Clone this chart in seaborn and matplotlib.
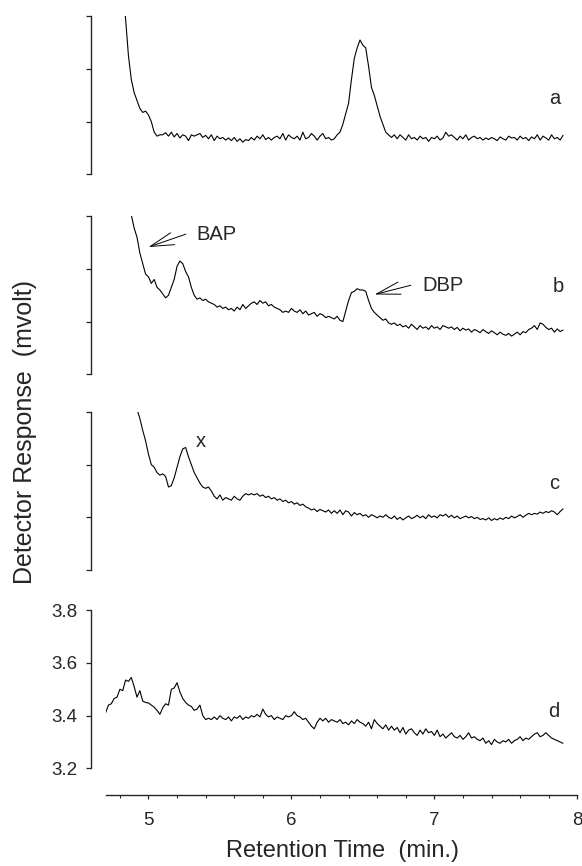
import numpy as np
import matplotlib
matplotlib.use("Agg")
import matplotlib.pyplot as plt
import seaborn as sns

sns.set_style("ticks")
plt.rcParams['font.family'] = ['Liberation Sans', 'DejaVu Sans']

# sampling times (min): 4.70 .. 7.90 every 0.02 min
time_min = [round(4.70 + 0.02 * i, 2) for i in range(161)]

# trace a (relative response, panel spans 0..0.6)
trace_a = [
    1.60, 1.40, 1.22, 1.06, 0.92, 0.80, 0.69, 0.59, 0.45, 0.36,
    0.31, 0.28, 0.25, 0.235, 0.24, 0.225, 0.20, 0.16, 0.145, 0.15,
    0.15, 0.158, 0.145, 0.16, 0.142, 0.155, 0.138, 0.15, 0.145, 0.128,
    0.15, 0.145, 0.15, 0.155, 0.14, 0.148, 0.135, 0.15, 0.128, 0.145,
    0.135, 0.14, 0.13, 0.138, 0.128, 0.14, 0.125, 0.135, 0.122, 0.132,
    0.128, 0.14, 0.13, 0.145, 0.135, 0.15, 0.132, 0.14, 0.13, 0.14,
    0.145, 0.135, 0.155, 0.13, 0.15, 0.14, 0.135, 0.145, 0.13, 0.16,
    0.135, 0.14, 0.155, 0.145, 0.13, 0.145, 0.155, 0.135, 0.14, 0.13,
    0.135, 0.15, 0.16, 0.19, 0.23, 0.27, 0.36, 0.44, 0.48, 0.51,
    0.49, 0.48, 0.41, 0.33, 0.30, 0.26, 0.22, 0.19, 0.16, 0.15,
    0.14, 0.15, 0.135, 0.15, 0.14, 0.13, 0.15, 0.135, 0.14, 0.13,
    0.145, 0.135, 0.14, 0.125, 0.14, 0.135, 0.145, 0.13, 0.138, 0.16,
    0.145, 0.15, 0.14, 0.13, 0.145, 0.135, 0.15, 0.13, 0.14, 0.145,
    0.135, 0.14, 0.13, 0.138, 0.132, 0.14, 0.135, 0.128, 0.142, 0.135,
    0.13, 0.145, 0.138, 0.14, 0.13, 0.145, 0.135, 0.14, 0.128, 0.142,
    0.135, 0.15, 0.13, 0.145, 0.138, 0.13, 0.15, 0.135, 0.14, 0.13,
    0.148,
]

trace_b = [
    1.50, 1.34, 1.19, 1.06, 0.95, 0.85, 0.77, 0.70, 0.645, 0.605,
    0.555, 0.52, 0.46, 0.42, 0.38, 0.37, 0.345, 0.36, 0.33, 0.32,
    0.305, 0.29, 0.30, 0.33, 0.36, 0.41, 0.43, 0.42, 0.39, 0.37,
    0.33, 0.30, 0.285, 0.29, 0.28, 0.285, 0.275, 0.27, 0.265, 0.255,
    0.26, 0.25, 0.255, 0.245, 0.25, 0.24, 0.255, 0.245, 0.265, 0.25,
    0.26, 0.27, 0.275, 0.265, 0.28, 0.27, 0.275, 0.26, 0.265, 0.255,
    0.25, 0.245, 0.235, 0.24, 0.235, 0.25, 0.24, 0.235, 0.245, 0.23,
    0.24, 0.225, 0.23, 0.235, 0.22, 0.23, 0.225, 0.215, 0.22, 0.215,
    0.21, 0.22, 0.205, 0.20, 0.24, 0.28, 0.31, 0.315, 0.325, 0.32,
    0.32, 0.315, 0.28, 0.25, 0.235, 0.225, 0.215, 0.205, 0.21, 0.195,
    0.19, 0.195, 0.185, 0.19, 0.18, 0.185, 0.175, 0.19, 0.18, 0.17,
    0.185, 0.175, 0.18, 0.17, 0.185, 0.175, 0.18, 0.17, 0.185, 0.18,
    0.175, 0.18, 0.17, 0.178, 0.165, 0.175, 0.168, 0.172, 0.16, 0.17,
    0.165, 0.158, 0.17, 0.162, 0.155, 0.165, 0.158, 0.15, 0.16, 0.152,
    0.148, 0.155, 0.145, 0.152, 0.16, 0.15, 0.162, 0.158, 0.17, 0.175,
    0.185, 0.17, 0.195, 0.19, 0.178, 0.17, 0.175, 0.16, 0.172, 0.162,
    0.168,
]

trace_c = [
    1.70, 1.52, 1.36, 1.22, 1.10, 0.99, 0.89, 0.81, 0.74, 0.68,
    0.64, 0.61, 0.575, 0.53, 0.49, 0.44, 0.40, 0.39, 0.37, 0.36,
    0.365, 0.355, 0.315, 0.32, 0.35, 0.39, 0.43, 0.46, 0.465, 0.43,
    0.40, 0.37, 0.35, 0.33, 0.315, 0.31, 0.315, 0.30, 0.28, 0.27,
    0.285, 0.265, 0.275, 0.27, 0.265, 0.28, 0.27, 0.265, 0.28, 0.29,
    0.285, 0.29, 0.285, 0.29, 0.28, 0.285, 0.275, 0.28, 0.27, 0.275,
    0.265, 0.27, 0.26, 0.265, 0.255, 0.26, 0.25, 0.255, 0.245, 0.25,
    0.24, 0.235, 0.228, 0.232, 0.222, 0.23, 0.225, 0.22, 0.228, 0.215,
    0.225, 0.215, 0.228, 0.21, 0.225, 0.22, 0.205, 0.218, 0.21, 0.215,
    0.205, 0.21, 0.20, 0.21, 0.205, 0.198, 0.205, 0.20, 0.21, 0.20,
    0.195, 0.205, 0.192, 0.20, 0.19, 0.198, 0.205, 0.195, 0.20, 0.208,
    0.198, 0.205, 0.195, 0.21, 0.20, 0.205, 0.198, 0.21, 0.205, 0.212,
    0.20, 0.208, 0.198, 0.205, 0.195, 0.20, 0.205, 0.198, 0.203, 0.195,
    0.20, 0.192, 0.195, 0.19, 0.198, 0.188, 0.195, 0.19, 0.198, 0.192,
    0.20, 0.195, 0.205, 0.198, 0.203, 0.21, 0.20, 0.208, 0.215, 0.21,
    0.215, 0.212, 0.22, 0.215, 0.222, 0.218, 0.225, 0.22, 0.21, 0.222,
    0.232,
]

# trace d (mvolt)
trace_d = [
    3.41, 3.44, 3.445, 3.465, 3.47, 3.50, 3.495, 3.535, 3.53, 3.545,
    3.51, 3.47, 3.495, 3.455, 3.45, 3.448, 3.44, 3.432, 3.42, 3.405,
    3.43, 3.445, 3.44, 3.50, 3.505, 3.525, 3.49, 3.465, 3.45, 3.44,
    3.435, 3.42, 3.425, 3.44, 3.40, 3.385, 3.39, 3.385, 3.395, 3.385,
    3.40, 3.39, 3.385, 3.395, 3.38, 3.395, 3.39, 3.40, 3.385, 3.395,
    3.39, 3.40, 3.395, 3.405, 3.395, 3.425, 3.405, 3.395, 3.40, 3.385,
    3.395, 3.39, 3.385, 3.40, 3.395, 3.40, 3.415, 3.40, 3.395, 3.385,
    3.39, 3.375, 3.36, 3.35, 3.375, 3.39, 3.38, 3.39, 3.375, 3.385,
    3.38, 3.375, 3.385, 3.37, 3.375, 3.365, 3.38, 3.37, 3.385, 3.375,
    3.37, 3.36, 3.375, 3.35, 3.385, 3.37, 3.36, 3.35, 3.365, 3.345,
    3.36, 3.345, 3.355, 3.335, 3.355, 3.33, 3.345, 3.35, 3.335, 3.325,
    3.345, 3.33, 3.35, 3.335, 3.34, 3.325, 3.345, 3.32, 3.33, 3.315,
    3.325, 3.335, 3.32, 3.315, 3.325, 3.31, 3.32, 3.335, 3.315, 3.32,
    3.31, 3.305, 3.315, 3.295, 3.305, 3.29, 3.31, 3.30, 3.295, 3.305,
    3.30, 3.31, 3.295, 3.305, 3.31, 3.32, 3.305, 3.315, 3.31, 3.32,
    3.33, 3.335, 3.32, 3.325, 3.335, 3.325, 3.315, 3.31, 3.305, 3.30,
    3.295,
]

panel_letters = ["a", "b", "c", "d"]
d_yticks = [3.2, 3.4, 3.6, 3.8]
x_major = [5, 6, 7, 8]

fig = plt.figure(figsize=(5.82, 8.66), dpi=100)
left, width, h = 0.1814, 0.8105, 0.1825
bottoms = [0.7987, 0.5678, 0.3418, 0.1128]
traces = [trace_a, trace_b, trace_c, trace_d]
letter_pos = [(7.845, 0.289), (7.87, 0.332), (7.838, 0.329), (7.838, 3.415)]

axes = []
for i, (bot, tr) in enumerate(zip(bottoms, traces)):
    ax = fig.add_axes([left, bot, width, h])
    sns.lineplot(x=time_min[:len(tr)], y=tr, ax=ax, color="black",
                 linewidth=0.8, estimator=None)
    ax.set_xlim(4.70, 8.0)
    if i < 3:
        ax.set_ylim(0, 0.6)
        ax.set_yticks([0, 0.2, 0.4, 0.6])
        ax.set_yticklabels([])
        ax.set_xticks([])
        ax.spines['bottom'].set_visible(False)
    else:
        ax.set_ylim(3.2, 3.8)
        ax.set_yticks(d_yticks)
        ax.set_yticklabels([f"{v:.1f}" for v in d_yticks])
        ax.set_xticks(x_major)
        ax.set_xticklabels([str(v) for v in x_major])
        ax.set_xticks(np.round(np.arange(4.8, 8.0, 0.2), 1), minor=True)
        ax.spines['bottom'].set_position(('outward', 19.2))
        ax.spines['bottom'].set_linewidth(1.0)
        ax.tick_params(axis='x', which='major', direction='out', length=3,
                       width=0.9, pad=9, labelsize=13.5)
        ax.tick_params(axis='x', which='minor', direction='out', length=2.5,
                       width=0.8)
    ax.spines['top'].set_visible(False)
    ax.spines['right'].set_visible(False)
    ax.spines['left'].set_position(('outward', 10.5))
    ax.spines['left'].set_linewidth(1.0)
    ax.tick_params(axis='y', direction='out', length=3.5, width=0.9,
                   pad=6, labelsize=13.5)
    ax.set_xlabel("")
    ax.set_ylabel("")
    ax.patch.set_alpha(0)
    lx, ly = letter_pos[i]
    ax.text(lx, ly, panel_letters[i], ha='center', va='center', fontsize=14.5)
    axes.append(ax)

arrow_kw = dict(arrowstyle='->, head_length=1.7, head_width=0.45',
                lw=0.7, color='black', shrinkA=0, shrinkB=0,
                mutation_scale=10)
ax_b = axes[1]
ax_b.annotate('', xy=(5.0, 0.483), xytext=(5.262, 0.532), arrowprops=arrow_kw)
ax_b.text(5.476, 0.532, 'BAP', ha='center', va='center', fontsize=14.5)
ax_b.annotate('', xy=(6.583, 0.303), xytext=(6.836, 0.338), arrowprops=arrow_kw)
ax_b.text(7.061, 0.338, 'DBP', ha='center', va='center', fontsize=14.5)

axes[2].text(5.365, 0.487, 'x', ha='center', va='center', fontsize=14.5)

fig.text(25 / 582, 1 - 432 / 866, "Detector Response  (mvolt)", rotation=90,
         ha='center', va='center', fontsize=18)
fig.text(342 / 582, 1 - 851 / 866, "Retention Time  (min.)",
         ha='center', va='center', fontsize=17)

fig.savefig("out.png", dpi=100)
